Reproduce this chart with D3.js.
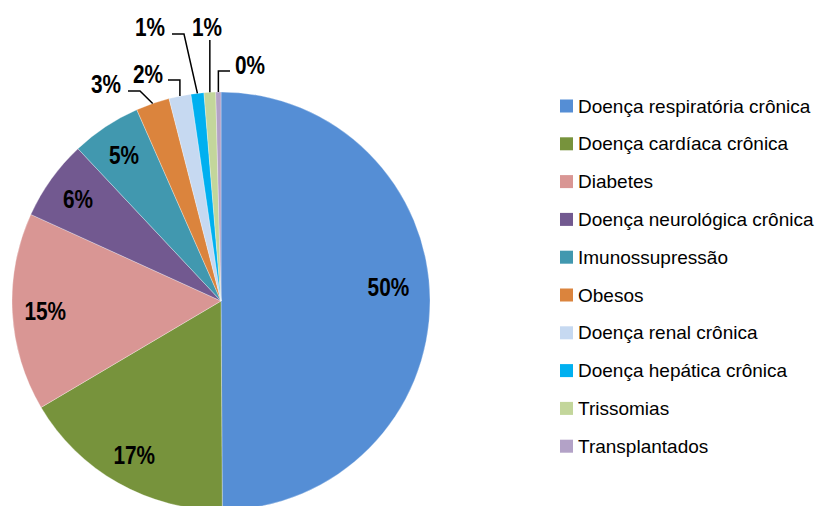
<!DOCTYPE html>
<html>
<head>
<meta charset="utf-8">
<script src="https://cdn.jsdelivr.net/npm/d3@7/dist/d3.min.js"></script>
<style>
  html, body { margin: 0; padding: 0; background: #fff; }
  svg { display: block; }
</style>
</head>
<body>
<svg id="chart" width="819" height="506"></svg>
<script>
const categories = [
  "Doença respiratória crônica",
  "Doença cardíaca crônica",
  "Diabetes",
  "Doença neurológica crônica",
  "Imunossupressão",
  "Obesos",
  "Doença renal crônica",
  "Doença hepática crônica",
  "Trissomias",
  "Transplantados"
];
const values = [49.9, 16.6, 15.3, 6.2, 5.4, 2.6, 1.7, 1.0, 0.9, 0.4];
const colors = ["#558ED5", "#77933C", "#D99694", "#725990", "#4198AF",
                "#DB843D", "#C6D9F1", "#00B0F0", "#C3D69B", "#B3A2C7"];

const W = 819, H = 506;
const cx = 221, cy = 301, R = 209;

const svg = d3.select("#chart");
svg.append("rect").attr("width", W).attr("height", H).attr("fill", "#fff");

const data = categories.map((c, i) => ({ name: c, value: values[i], color: colors[i] }));
const pie = d3.pie().sort(null).value(d => d.value);
const arcs = pie(data);
const arc = d3.arc().innerRadius(0).outerRadius(R);

const g = svg.append("g").attr("transform", `translate(${cx},${cy})`);
g.selectAll("path.slice").data(arcs).enter().append("path")
  .attr("class", "slice")
  .attr("d", arc)
  .attr("fill", d => d.data.color)
  .attr("stroke", "#ffffff")
  .attr("stroke-opacity", 0.6)
  .attr("stroke-width", 0.5);

const fmt = v => Math.round(v) + "%";
const labelFont = "'Liberation Sans', Arial, sans-serif";

// polar helper (angle clockwise from 12 o'clock)
const polar = (a, r) => [Math.sin(a) * r, -Math.cos(a) * r];

function addLabel(x, y, txt) {
  g.append("text")
    .attr("transform", `translate(${x},${y}) scale(0.8,1)`)
    .attr("dy", "0.36em")
    .attr("text-anchor", "middle")
    .attr("font-family", labelFont)
    .attr("font-weight", "bold")
    .attr("font-size", 26)
    .attr("fill", "#000")
    .text(txt);
}

// inner labels: big slices (first 5)
const innerR = 176;
arcs.slice(0, 5).forEach((d, i) => {
  let a = (d.startAngle + d.endAngle) / 2;
  let r = innerR;
  if (i === 0) { a -= 0.08; r = 168; }
  const [x, y] = polar(a, r);
  addLabel(x, y, fmt(d.data.value));
});

// outer labels for small slices with leader lines
const outer = [
  { idx: 5, off: [-115, -217], style: "diag", side: -1 },
  { idx: 6, off: [-73, -227], style: "vert", side: -1 },
  { idx: 7, off: [-71, -274], style: "diag", side: -1 },
  { idx: 8, off: [-14, -274], style: "up" },
  { idx: 9, off: [29, -236], style: "vert", side: 1 }
];
outer.forEach(o => {
  const d = arcs[o.idx];
  const a = (d.startAngle + d.endAngle) / 2;
  const start = polar(a, R);
  const tx = o.off[0], ty = o.off[1];
  let pts;
  if (o.style === "diag") {
    const end = [tx + 22, ty + 7];
    const elbow = [end[0] + 12, end[1]];
    pts = [start, elbow, end];
  } else if (o.style === "vert") {
    const end = [tx - o.side * 20, ty + 6];
    const elbow = [start[0], end[1]];
    pts = [start, elbow, end];
  } else {
    pts = [start, [start[0], ty + 13]];
  }
  g.append("path")
    .attr("d", d3.line()(pts))
    .attr("fill", "none")
    .attr("stroke", "#000")
    .attr("stroke-width", 1.5);
  addLabel(tx, ty, fmt(d.data.value));
});

// legend
const legendX = 560, legendY0 = 106, legendStep = 37.8;
const lg = svg.append("g");
data.forEach((d, i) => {
  const y = legendY0 + i * legendStep;
  lg.append("rect")
    .attr("x", legendX).attr("y", y - 6.5)
    .attr("width", 13).attr("height", 13)
    .attr("fill", d.color);
  lg.append("text")
    .attr("x", legendX + 18).attr("y", y + 6.5)
    .attr("font-family", "'Liberation Sans', Arial, sans-serif")
    .attr("font-size", 19)
    .attr("fill", "#000")
    .text(d.name);
});
</script>
</body>
</html>
